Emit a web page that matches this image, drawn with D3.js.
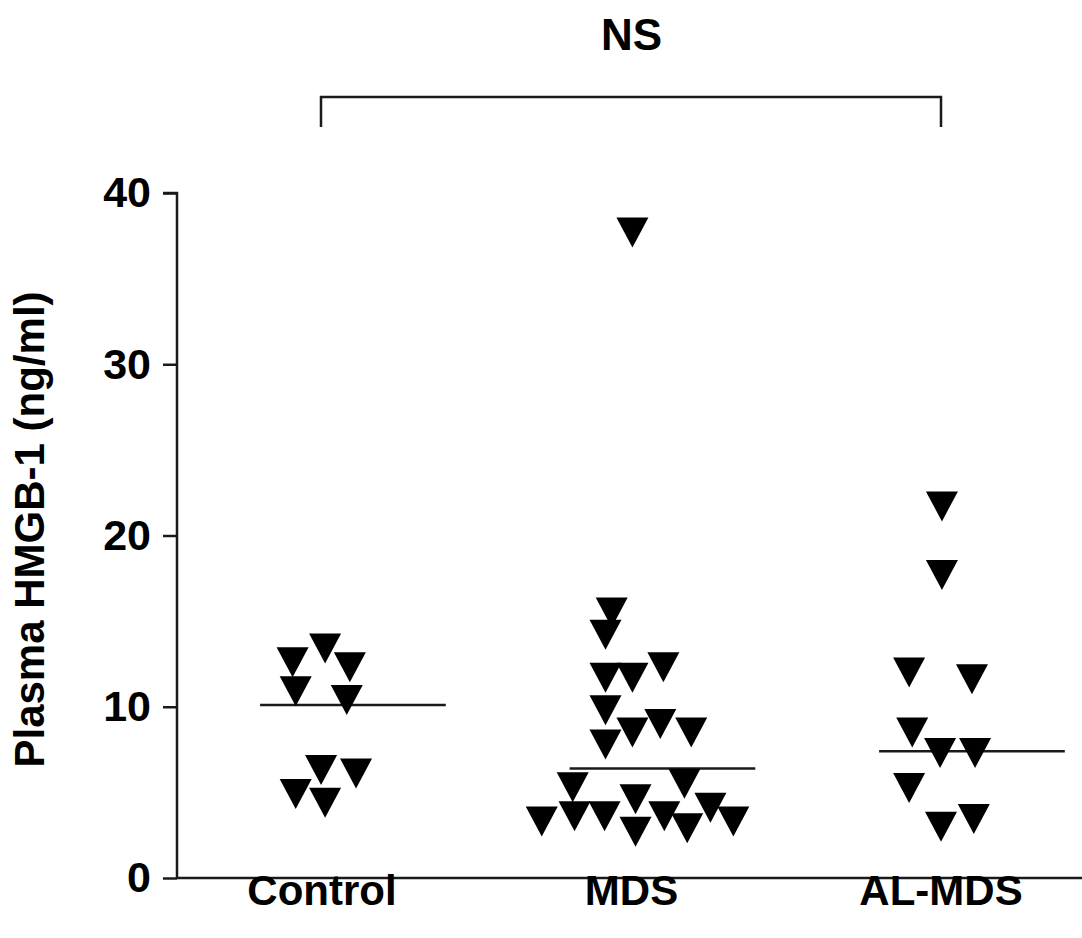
<!DOCTYPE html>
<html>
<head>
<meta charset="utf-8">
<script src="https://cdn.jsdelivr.net/npm/d3@7"></script>
<style>
html,body{margin:0;padding:0;background:#fff;}
svg{display:block;}
text{font-family:"Liberation Sans",Arial,sans-serif;font-weight:bold;fill:#000;}
</style>
</head>
<body>
<svg id="chart" width="1082" height="938"></svg>
<script>
// ---- data ----
const categories = ["Control", "MDS", "AL-MDS"];
const controlValues = [12.6, 13.4, 12.3, 10.9, 10.4, 6.3, 6.1, 4.9, 4.4];
const controlJitter = [-0.095, 0.01, 0.09, -0.085, 0.08, -0.003, 0.11, -0.085, 0.01];
const mdsValues = [37.7, 15.5, 14.2, 12.3, 11.7, 11.7, 9.8, 9.0, 8.5, 8.5, 7.8, 5.5, 5.3, 4.6, 4.1, 3.6, 3.6, 3.6, 3.3, 3.3, 2.9, 2.7];
const mdsJitter = [0.003, -0.064, -0.084, 0.103, -0.084, 0.003, -0.084, 0.093, 0.003, 0.193, -0.084, 0.171, -0.19, 0.013, 0.255, -0.184, -0.087, 0.106, -0.29, 0.329, 0.180, 0.013];
const alValues = [21.7, 17.7, 12.0, 11.6, 8.5, 7.3, 7.3, 5.25, 3.0, 3.45];
const alJitter = [0.003, 0.003, -0.103, 0.100, -0.093, -0.003, 0.110, -0.103, 0.000, 0.106];
const centralLines = [10.1, 6.4, 7.4];
const yTicks = [0, 10, 20, 30, 40];
const sigLabel = "NS";
const yLabel = "Plasma HMGB-1 (ng/ml)";

const groups = [
  {values: controlValues, jitter: controlJitter},
  {values: mdsValues, jitter: mdsJitter},
  {values: alValues, jitter: alJitter}
];

// ---- layout ----
const svg = d3.select("#chart");
const axisX = 177, axisTop = 193, axisBottom = 878, axisRight = 1082;
const y = d3.scaleLinear().domain([0, 40]).range([axisBottom, axisTop]);
const x = d3.scaleLinear().domain([0, 2]).range([322, 941]);
const ink = "#1a1a1a";

// y axis
const yAxis = d3.axisLeft(y).tickValues(yTicks).tickSize(14).tickPadding(12).tickFormat(d3.format("d"));
const gy = svg.append("g").attr("transform", `translate(${axisX},0)`).call(yAxis);
gy.select(".domain").attr("stroke", ink).attr("stroke-width", 2.5).attr("d", `M-14,${axisTop}H0V${axisBottom}`);
gy.selectAll(".tick line").attr("stroke", ink).attr("stroke-width", 2.5);
gy.selectAll(".tick text").style("font-size", "43px").style("font-family", '"Liberation Sans",Arial,sans-serif').style("font-weight", "bold").attr("fill", "#000");

// x axis line
svg.append("line").attr("x1", axisX).attr("x2", axisRight).attr("y1", y(0)).attr("y2", y(0))
  .attr("stroke", ink).attr("stroke-width", 2.5);

// x labels
svg.selectAll(".xlab").data(categories).enter().append("text")
  .attr("class", "xlab")
  .attr("x", (d, i) => x(i)).attr("y", 905)
  .attr("text-anchor", "middle").style("font-size", "42px")
  .text(d => d);

// y label
svg.append("text")
  .attr("transform", `translate(44,${(axisTop + axisBottom) / 2 - 6}) rotate(-90)`)
  .attr("text-anchor", "middle").style("font-size", "42px")
  .text(yLabel);

// central lines
svg.selectAll(".cline").data(centralLines).enter().append("line")
  .attr("class", "cline")
  .attr("x1", (d, i) => x(i) - 0.2 * (x(1) - x(0)))
  .attr("x2", (d, i) => x(i) + 0.4 * (x(1) - x(0)))
  .attr("y1", d => y(d)).attr("y2", d => y(d))
  .attr("stroke", ink).attr("stroke-width", 2.5);

// triangles (apex down), centered on data point
const tw = 32, th = 30;
const tri = `M${-tw/2},${-th/2}L${tw/2},${-th/2}L0,${th/2}Z`;
groups.forEach((g, gi) => {
  svg.append("g").selectAll("path").data(g.values).enter().append("path")
    .attr("d", tri)
    .attr("transform", (d, i) => `translate(${x(gi + g.jitter[i])},${y(d)})`)
    .attr("fill", "#000");
});

// significance bracket
const bY = 97, bDrop = 30;
svg.append("path")
  .attr("d", `M${x(0) - 1},${bY + bDrop}V${bY}H${x(2)}V${bY + bDrop}`)
  .attr("fill", "none").attr("stroke", ink).attr("stroke-width", 2.5);
svg.append("text").attr("x", (x(0) + x(2)) / 2).attr("y", 50)
  .attr("text-anchor", "middle").style("font-size", "44px").text(sigLabel);
</script>
</body>
</html>
